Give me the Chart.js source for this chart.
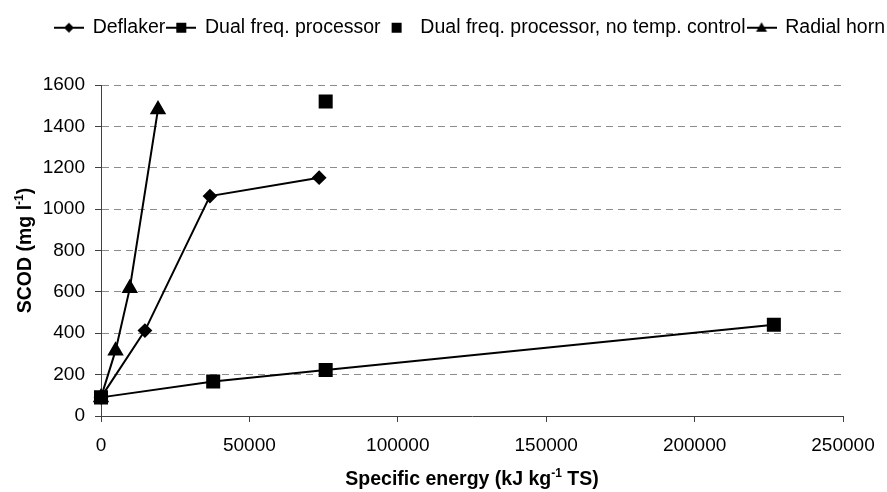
<!DOCTYPE html>
<html>
<head>
<meta charset="utf-8">
<script src="https://cdn.jsdelivr.net/npm/chart.js@4.4.1/dist/chart.umd.min.js"></script>
<style>
  html, body { margin: 0; padding: 0; background: #fff; }
  canvas { display: block; }
</style>
</head>
<body>
<canvas id="scodChart" width="887" height="492"></canvas>
<script>
var seriesNames = ["Deflaker", "Dual freq. processor", "Dual freq. processor, no temp. control", "Radial horn"];

var deflakerEnergy = [0, 14800, 36700, 73500];
var deflakerScod = [90, 413, 1063, 1152];

var dualEnergy = [0, 37800, 75700, 226700];
var dualScod = [90, 167, 222, 441];

var noTempEnergy = [75700];
var noTempScod = [1520];

var hornEnergy = [0, 4900, 9700, 19200];
var hornScod = [90, 316, 617, 1482];

var yTicks = [0, 200, 400, 600, 800, 1000, 1200, 1400, 1600];
var xTicks = [0, 50000, 100000, 150000, 200000, 250000];

var FONT = '"Liberation Sans", Arial, sans-serif';
var AXIS_COLOR = '#404040';
var GRID_COLOR = '#8c8c8c';

function toPoints(xs, ys) {
  return xs.map(function (x, i) { return { x: x, y: ys[i] }; });
}

// small line+marker images for the legend
function legendIcon(shape, withLine) {
  var c = document.createElement('canvas');
  c.width = 30;
  c.height = 16;
  var g = c.getContext('2d');
  if (withLine) {
    g.strokeStyle = '#000';
    g.lineWidth = 2;
    g.beginPath();
    g.moveTo(0, 8);
    g.lineTo(30, 8);
    g.stroke();
  }
  g.fillStyle = '#000';
  g.beginPath();
  if (shape === 'diamond') {
    g.moveTo(15, 3); g.lineTo(20, 8); g.lineTo(15, 13); g.lineTo(10, 8);
  } else if (shape === 'square') {
    g.rect(10, 3, 10, 10);
  } else {
    g.moveTo(15, 2.5); g.lineTo(20.5, 12); g.lineTo(9.5, 12);
  }
  g.closePath();
  g.fill();
  return c;
}

var legendIcons = [
  legendIcon('diamond', true),
  legendIcon('square', true),
  legendIcon('square', false),
  legendIcon('triangle', true)
];

// keep the plot top well below the legend row
var legendSpacer = {
  id: 'legendSpacer',
  beforeLayout: function (chart) {
    var legend = chart.legend;
    if (!legend || legend._spaced) return;
    var fit = legend.fit;
    legend.fit = function () {
      fit.call(this);
      this.height = 69;
    };
    legend._spaced = true;
  }
};

// axis titles with superscript "-1"
function drawSupText(ctx, pre, sup, post, cx, y) {
  var mainFont = 'bold 19.5px ' + FONT;
  var supFont = 'bold 12px ' + FONT;
  ctx.font = mainFont;
  var w1 = ctx.measureText(pre).width;
  var w3 = ctx.measureText(post).width;
  ctx.font = supFont;
  var w2 = ctx.measureText(sup).width;
  var x = cx - (w1 + w2 + w3) / 2;
  ctx.textAlign = 'left';
  ctx.textBaseline = 'alphabetic';
  ctx.fillStyle = '#000';
  ctx.font = mainFont;
  ctx.fillText(pre, x, y);
  ctx.font = supFont;
  ctx.fillText(sup, x + w1, y - 8);
  ctx.font = mainFont;
  ctx.fillText(post, x + w1 + w2, y);
}

var axisTitles = {
  id: 'axisTitles',
  afterDraw: function (chart) {
    var ctx = chart.ctx;
    var area = chart.chartArea;
    ctx.save();
    drawSupText(ctx, 'Specific energy (kJ kg', '-1', ' TS)', (area.left + area.right) / 2, 485);
    ctx.translate(31, (area.top + area.bottom) / 2);
    ctx.rotate(-Math.PI / 2);
    drawSupText(ctx, 'SCOD (mg l', '-1', ')', 0, 0);
    ctx.restore();
  }
};

var ctx = document.getElementById('scodChart').getContext('2d');
var chart = new Chart(ctx, {
  type: 'scatter',
  data: {
    datasets: [{
      label: seriesNames[0],
      data: toPoints(deflakerEnergy, deflakerScod),
      showLine: true,
      borderColor: '#000',
      backgroundColor: '#000',
      borderWidth: 2,
      pointStyle: 'rectRot',
      pointRadius: 6,
      pointHoverRadius: 6,
      clip: false
    }, {
      label: seriesNames[1],
      data: toPoints(dualEnergy, dualScod),
      showLine: true,
      borderColor: '#000',
      backgroundColor: '#000',
      borderWidth: 2,
      pointStyle: 'rect',
      pointRadius: 8.5,
      pointHoverRadius: 8.5,
      clip: false
    }, {
      label: seriesNames[2],
      data: toPoints(noTempEnergy, noTempScod),
      showLine: false,
      borderColor: '#000',
      backgroundColor: '#000',
      borderWidth: 2,
      pointStyle: 'rect',
      pointRadius: 8.5,
      pointHoverRadius: 8.5,
      clip: false
    }, {
      label: seriesNames[3],
      data: toPoints(hornEnergy, hornScod),
      showLine: true,
      borderColor: '#000',
      backgroundColor: '#000',
      borderWidth: 2,
      pointStyle: 'triangle',
      pointRadius: 7.5,
      pointHoverRadius: 7.5,
      clip: false
    }]
  },
  options: {
    responsive: false,
    animation: false,
    devicePixelRatio: 1,
    layout: { padding: { left: 0, right: 0, top: 16, bottom: 0 } },
    plugins: {
      tooltip: { enabled: false },
      legend: {
        position: 'top',
        align: 'end',
        labels: {
          usePointStyle: true,
          pointStyleWidth: 28,
          padding: 2,
          color: '#000',
          font: { family: FONT, size: 19.5 },
          generateLabels: function (chart) {
            var items = Chart.defaults.plugins.legend.labels.generateLabels(chart);
            items.forEach(function (item, i) { item.pointStyle = legendIcons[i]; });
            return items;
          }
        }
      }
    },
    scales: {
      x: {
        type: 'linear',
        min: xTicks[0],
        max: xTicks[xTicks.length - 1],
        afterBuildTicks: function (scale) {
          scale.ticks = xTicks.map(function (v) { return { value: v }; });
        },
        afterFit: function (scale) { scale.height = 76; },
        grid: {
          drawOnChartArea: false,
          tickLength: 6,
          tickColor: AXIS_COLOR
        },
        border: { color: AXIS_COLOR, width: 1 },
        ticks: {
          padding: 12,
          color: '#000',
          maxRotation: 0,
          font: { family: FONT, size: 19 },
          callback: function (v) { return String(v); }
        }
      },
      y: {
        type: 'linear',
        min: yTicks[0],
        max: yTicks[yTicks.length - 1],
        afterBuildTicks: function (scale) {
          scale.ticks = yTicks.map(function (v) { return { value: v }; });
        },
        afterFit: function (scale) { scale.width = 101; },
        grid: {
          color: GRID_COLOR,
          lineWidth: 1,
          tickLength: 6,
          tickColor: AXIS_COLOR,
          tickBorderDash: []
        },
        border: { color: AXIS_COLOR, width: 1, dash: [7, 5] },
        ticks: {
          padding: 10,
          color: '#000',
          font: { family: FONT, size: 19 },
          callback: function (v) { return String(v); }
        }
      },
      yRight: {
        type: 'linear',
        position: 'right',
        display: true,
        afterFit: function (scale) { scale.width = 44; },
        grid: { display: false },
        border: { display: false },
        ticks: { display: false }
      }
    }
  },
  plugins: [legendSpacer, axisTitles]
});
</script>
</body>
</html>
